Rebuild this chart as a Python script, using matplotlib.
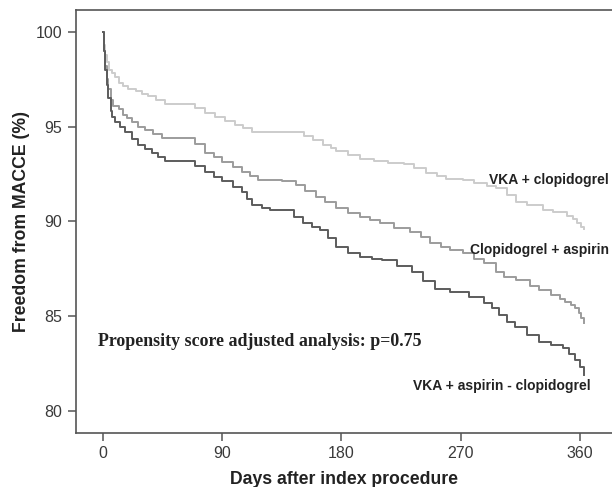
import numpy as np
import matplotlib
matplotlib.use("Agg")
import matplotlib.pyplot as plt

plt.rcParams['font.family'] = ['Liberation Sans', 'DejaVu Sans']

# Kaplan-Meier steps (days, % free from MACCE)
vka_clop_days = [0, 1, 2, 3, 5, 7, 9, 12, 15, 19, 25, 30, 34, 40, 47, 70, 77, 85, 92,
                 100, 106, 113, 152, 159, 166, 172, 176, 185, 194, 205, 215, 227, 235,
                 244, 252, 259, 272, 280, 290, 297, 305, 312, 320, 332, 340, 350, 355,
                 358, 361, 363]
vka_clop_surv = [100, 99.3, 98.8, 98.4, 98.0, 97.8, 97.6, 97.3, 97.15, 97.0, 96.85, 96.7,
                 96.6, 96.4, 96.2, 96.0, 95.7, 95.5, 95.3, 95.1, 94.9, 94.7, 94.5, 94.3,
                 94.05, 93.85, 93.7, 93.5, 93.3, 93.2, 93.1, 93.0, 92.8, 92.55, 92.4,
                 92.25, 92.2, 92.0, 91.85, 91.75, 91.4, 91.0, 90.85, 90.6, 90.5, 90.3,
                 90.1, 89.9, 89.7, 89.6]

clop_asp_days = [0, 1, 2, 3, 4, 6, 8, 12, 15, 18, 22, 27, 32, 38, 45, 70, 77, 84, 90, 98,
                 105, 111, 117, 135, 146, 153, 161, 168, 176, 185, 194, 202, 209, 220,
                 232, 240, 247, 255, 262, 272, 280, 288, 297, 303, 312, 322, 329, 338,
                 345, 349, 353, 356, 359, 361, 363]
clop_asp_surv = [100, 99.0, 98.2, 97.5, 97.0, 96.4, 96.1, 95.9, 95.6, 95.45, 95.25, 95.0,
                 94.8, 94.6, 94.4, 94.1, 93.6, 93.4, 93.15, 92.85, 92.6, 92.4, 92.2, 92.1,
                 91.9, 91.6, 91.3, 91.0, 90.7, 90.45, 90.25, 90.05, 89.9, 89.65, 89.45,
                 89.15, 88.85, 88.65, 88.5, 88.3, 88.0, 87.8, 87.3, 87.05, 86.9, 86.6,
                 86.35, 86.1, 85.9, 85.75, 85.6, 85.4, 85.15, 84.9, 84.65]

triple_days = [0, 1, 2, 3, 4, 6, 7, 9, 13, 17, 22, 27, 32, 37, 42, 47, 70, 77, 84, 90, 98,
               105, 109, 113, 120, 126, 144, 151, 158, 164, 170, 176, 185, 194, 203, 211,
               222, 233, 242, 251, 262, 276, 288, 294, 299, 305, 311, 320, 329, 338, 347,
               352, 356, 360, 363]
triple_surv = [100, 99.0, 98.0, 97.2, 96.5, 95.8, 95.5, 95.25, 94.95, 94.7, 94.35, 94.0,
               93.8, 93.6, 93.4, 93.2, 92.9, 92.6, 92.35, 92.1, 91.8, 91.55, 91.2, 90.85,
               90.7, 90.6, 90.2, 89.9, 89.7, 89.55, 89.1, 88.65, 88.35, 88.1, 88.0, 87.95,
               87.65, 87.3, 86.85, 86.45, 86.25, 86.0, 85.7, 85.4, 85.05, 84.7, 84.4, 84.0,
               83.65, 83.45, 83.3, 83.0, 82.7, 82.3, 81.9]

curve_names = ["VKA + clopidogrel", "Clopidogrel + aspirin", "VKA + aspirin - clopidogrel"]
x_ticks = [0, 90, 180, 270, 360]
y_ticks = [80, 85, 90, 95, 100]

fig = plt.figure(figsize=(6.12, 4.87), dpi=100)
ax = fig.add_axes([0.1242, 0.1119, 0.8758, 0.8675])

spine_col = "#555555"
ax.step(vka_clop_days, vka_clop_surv, where='post', color="#cccccc", lw=1.4)
ax.step(clop_asp_days, clop_asp_surv, where='post', color="#9c9c9c", lw=1.4)
ax.step(triple_days, triple_surv, where='post', color="#5c5c5c", lw=1.4)

ax.set_xlim(-20.1, 384.2)
ax.set_ylim(78.85, 101.15)
ax.set_xticks(x_ticks)
ax.set_yticks(y_ticks)

for s in ["left", "bottom", "top"]:
    ax.spines[s].set_color(spine_col)
    ax.spines[s].set_linewidth(1.2)
ax.spines["right"].set_visible(False)
ax.tick_params(axis='both', colors=spine_col, length=6, width=1.1, pad=4,
               labelsize=11.5, labelcolor="#3a3a3a")

ax.set_xlabel("Days after index procedure", fontsize=12.7, fontweight='bold',
              color="#222222", labelpad=7)
ax.set_ylabel("Freedom from MACCE (%)", fontsize=12.7, fontweight='bold',
              color="#222222", labelpad=4)

# curve labels
lab_kw = dict(fontsize=10, fontweight='bold', color="#222222", ha='right', va='center')
ax.text(382, 92.2, curve_names[0], **lab_kw)
ax.text(382, 88.5, curve_names[1], **lab_kw)
ax.text(368, 81.3, curve_names[2], **lab_kw)

ax.text(-3.8, 83.64, "Propensity score adjusted analysis: p=0.75",
        family=['Liberation Serif', 'DejaVu Serif'], fontsize=12.9, fontweight='bold',
        color="#222222", ha='left', va='center')

fig.savefig("out.png", dpi=100)
